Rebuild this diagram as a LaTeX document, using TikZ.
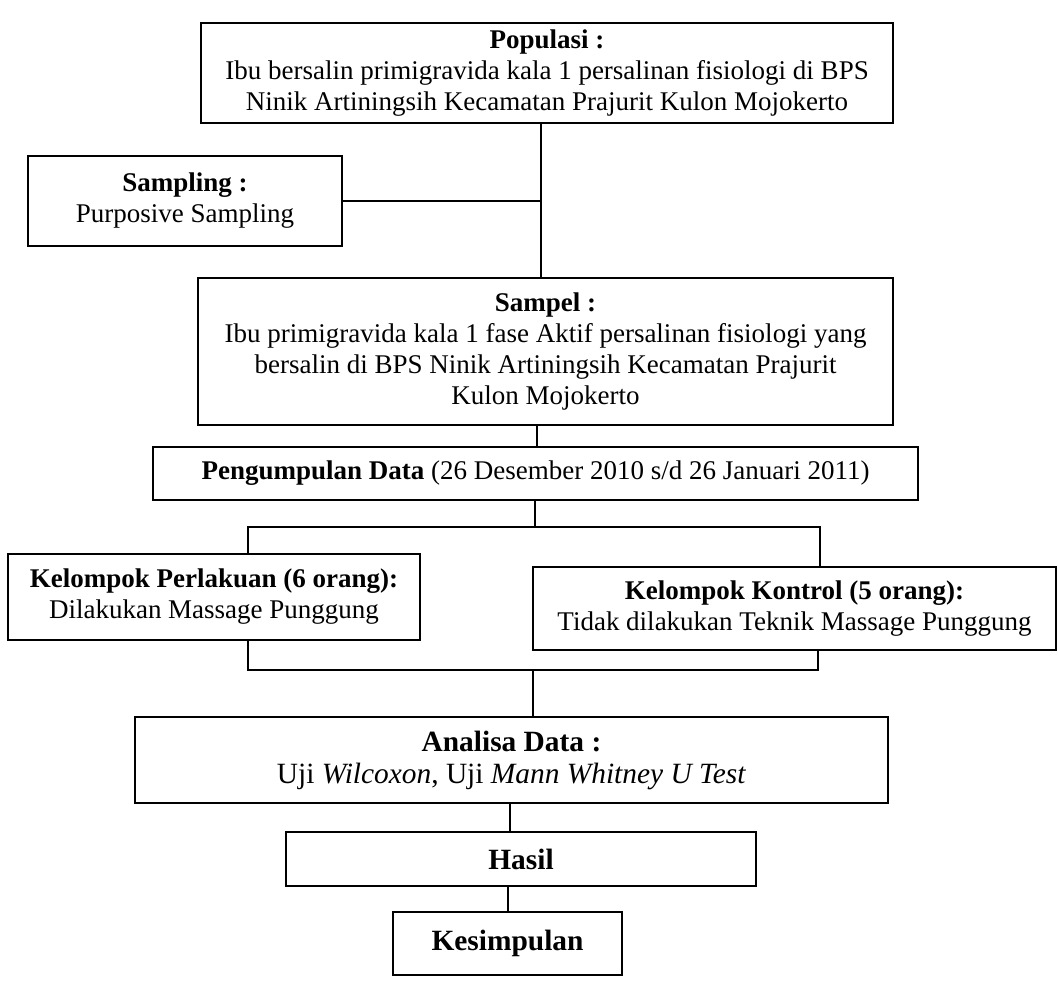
\documentclass[tikz,border=0pt]{standalone}
\usepackage{fontspec}
\setmainfont{Liberation Serif}
\begin{document}
\begin{tikzpicture}[x=0.5pt,y=-0.5pt,
  fbox/.style={draw, line width=1.1pt, align=center, inner sep=0pt,
    font=\fontsize{13.5}{15.5}\selectfont},
  bigtext/.style={font=\fontsize{14.7}{16}\selectfont},
  conn/.style={line width=1.1pt}]
\useasboundingbox (0,0) rectangle (1058,992);
\node[fbox, minimum width=346pt, minimum height=50pt] (pop) at (547,73)
  {\textbf{Populasi :}\\Ibu bersalin primigravida kala 1 persalinan fisiologi di BPS\\Ninik Artiningsih Kecamatan Prajurit Kulon Mojokerto};
\node[fbox, minimum width=157pt, minimum height=45pt] (smpl) at (185,201)
  {\textbf{Sampling :}\\Purposive Sampling};
\node[fbox, minimum width=347.5pt, minimum height=73.5pt] (sampel) at (545.5,351.5)
  {\textbf{Sampel :}\\Ibu primigravida kala 1 fase Aktif persalinan fisiologi yang\\bersalin di BPS Ninik Artiningsih Kecamatan Prajurit\\Kulon Mojokerto};
\node[fbox, minimum width=382.5pt, minimum height=26.5pt] (peng) at (535.5,473.5)
  {\textbf{Pengumpulan Data} (26 Desember 2010 s/d 26 Januari 2011)};
\node[fbox, minimum width=206pt, minimum height=43pt] (perl) at (214,597)
  {\textbf{Kelompok Perlakuan (6 orang):}\\Dilakukan Massage Punggung};
\node[fbox, minimum width=261.5pt, minimum height=41.5pt] (kont) at (794.5,608.5)
  {\textbf{Kelompok Kontrol (5 orang):}\\Tidak dilakukan Teknik Massage Punggung};
\node[fbox, bigtext, minimum width=376.5pt, minimum height=43pt] (ana) at (511.5,760)
  {\textbf{Analisa Data :}\\Uji \textit{Wilcoxon}, Uji \textit{Mann Whitney U Test}};
\node[fbox, bigtext, minimum width=235pt, minimum height=27pt] (has) at (521,859)
  {\textbf{Hasil}};
\node[fbox, bigtext, minimum width=114.5pt, minimum height=31.5pt] (kes) at (507.5,943.5)
  {\textbf{Kesimpulan}};
% trunk coordinates
\coordinate (t1) at (541,0);
\coordinate (t2) at (537,0);
\coordinate (t3) at (535,0);
\coordinate (bl) at (248,527);
\coordinate (br) at (820,527);
\coordinate (jl) at (248,670);
\coordinate (jr) at (818,670);
\coordinate (t4) at (533,0);
\coordinate (t5) at (510,0);
\coordinate (t6) at (508,0);
\draw[conn] (pop.south -| t1) -- (sampel.north -| t1);
\draw[conn] (smpl.east) -- (smpl.east -| t1);
\draw[conn] (sampel.south -| t2) -- (peng.north -| t2);
\draw[conn] (peng.south -| t3) -- (bl -| t3);
\draw[conn] (perl.north -| bl) -- (bl) -- (br) -- (kont.north -| br);
\draw[conn] (perl.south -| jl) -- (jl) -- (jr) -- (kont.south -| jr);
\draw[conn] (jl -| t4) -- (ana.north -| t4);
\draw[conn] (ana.south -| t5) -- (has.north -| t5);
\draw[conn] (has.south -| t6) -- (kes.north -| t6);
\end{tikzpicture}
\end{document}
